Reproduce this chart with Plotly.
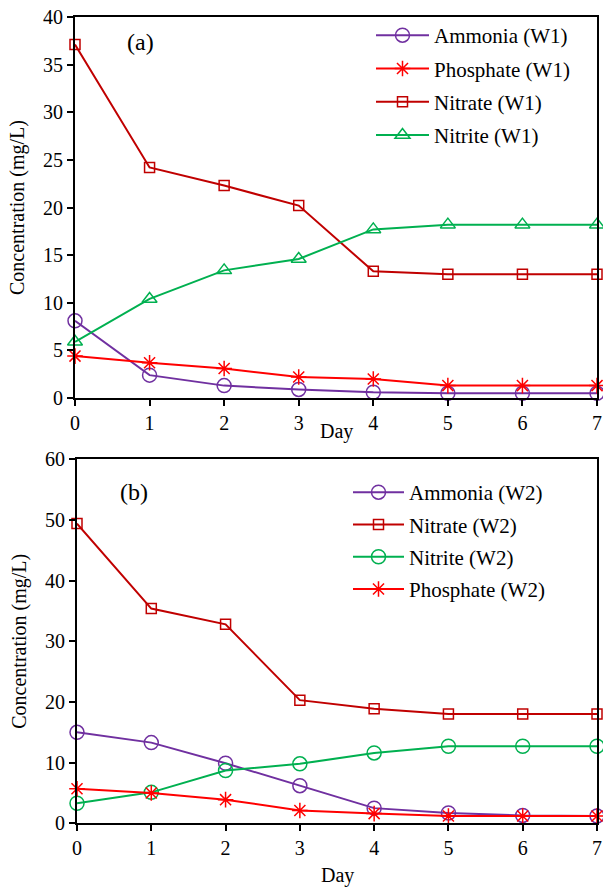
import plotly.graph_objects as go

days = [0, 1, 2, 3, 4, 5, 6, 7]

w1_ammonia = [8.1, 2.4, 1.3, 0.9, 0.6, 0.5, 0.5, 0.5]
w1_phosphate = [4.4, 3.7, 3.1, 2.2, 2.0, 1.3, 1.3, 1.3]
w1_nitrate = [37.1, 24.2, 22.3, 20.2, 13.3, 13.0, 13.0, 13.0]
w1_nitrite = [5.9, 10.4, 13.4, 14.6, 17.7, 18.2, 18.2, 18.2]

w2_ammonia = [15.0, 13.3, 9.9, 6.2, 2.5, 1.7, 1.3, 1.2]
w2_nitrate = [49.4, 35.4, 32.8, 20.3, 18.9, 18.0, 18.0, 18.0]
w2_nitrite = [3.3, 5.1, 8.7, 9.8, 11.6, 12.7, 12.7, 12.7]
w2_phosphate = [5.7, 5.0, 3.9, 2.1, 1.6, 1.2, 1.2, 1.2]

PURPLE = "#7030A0"
RED = "#FF0000"
DARKRED = "#C00000"
GREEN = "#00B050"
FONT = "Liberation Serif"

W, H = 603, 888

fig = go.Figure()

def add(x, y, name, color, symbol, size, xa, ya, legend):
    fig.add_trace(go.Scatter(
        x=x, y=y, name=name, mode="lines+markers",
        line=dict(color=color, width=2),
        marker=dict(symbol=symbol, size=size, color=color,
                    line=dict(color=color, width=1.5)),
        xaxis=xa, yaxis=ya, legend=legend, legendgroup=name,
        cliponaxis=False,
    ))

add(days, w1_ammonia, "Ammonia (W1)", PURPLE, "circle-open", 14, "x", "y", "legend")
add(days, w1_phosphate, "Phosphate (W1)", RED, "asterisk-open", 13, "x", "y", "legend")
add(days, w1_nitrate, "Nitrate (W1)", DARKRED, "square-open", 10, "x", "y", "legend")
add(days, w1_nitrite, "Nitrite (W1)", GREEN, "triangle-up-open", 13, "x", "y", "legend")

add(days, w2_ammonia, "Ammonia (W2)", PURPLE, "circle-open", 14, "x2", "y2", "legend2")
add(days, w2_nitrate, "Nitrate (W2)", DARKRED, "square-open", 10, "x2", "y2", "legend2")
add(days, w2_nitrite, "Nitrite (W2)", GREEN, "circle-open", 14, "x2", "y2", "legend2")
add(days, w2_phosphate, "Phosphate (W2)", RED, "asterisk-open", 13, "x2", "y2", "legend2")

axis_common = dict(
    showgrid=False, zeroline=False, showline=True, linecolor="black",
    linewidth=2, mirror=True, ticks="outside", ticklen=6, tickwidth=1.5,
    tickcolor="black", tickfont=dict(family=FONT, size=20, color="black"),
    automargin=False, ticklabeloverflow="allow",
)

top_x = [75 / W, 597 / W]
bot_x = [77 / W, 597 / W]
top_y = [1 - 398 / H, 1 - 17 / H]
bot_y = [1 - 823.3 / H, 1 - 459.3 / H]

ytitle = dict(text="Concentration (mg/L)", standoff=13,
              font=dict(family=FONT, size=20))

def note(text, px, py, size):
    return dict(text=text, x=px / W, y=1 - py / H, xref="paper", yref="paper",
                xanchor="center", yanchor="middle", showarrow=False,
                font=dict(family=FONT, size=size))

fig.update_layout(
    width=W, height=H,
    margin=dict(l=0, r=0, t=0, b=0),
    paper_bgcolor="white", plot_bgcolor="white",
    font=dict(family=FONT, size=20, color="black"),
    showlegend=True,
    xaxis=dict(axis_common, domain=top_x, range=[0, 7], dtick=1, anchor="y"),
    yaxis=dict(axis_common, domain=top_y, range=[0, 40], dtick=5, anchor="x",
               title=ytitle),
    xaxis2=dict(axis_common, domain=bot_x, range=[0, 7], dtick=1, anchor="y2"),
    yaxis2=dict(axis_common, domain=bot_y, range=[0, 60], dtick=10, anchor="x2",
                title=ytitle),
    legend=dict(x=371 / W, y=1 - 15 / H, xanchor="left", yanchor="top",
                bgcolor="rgba(0,0,0,0)", tracegroupgap=3, itemwidth=53,
                font=dict(family=FONT, size=21)),
    legend2=dict(x=348 / W, y=1 - 472 / H, xanchor="left", yanchor="top",
                 bgcolor="rgba(0,0,0,0)", tracegroupgap=2, itemwidth=51,
                 font=dict(family=FONT, size=21)),
    annotations=[
        note("(a)", 140, 42, 24),
        note("(b)", 134, 492, 24),
        note("Day", 336, 431, 20),
        note("Day", 337, 875, 20),
    ],
)

fig.write_html("out.html", config={"displayModeBar": False},
               post_script="document.body.style.margin='0';")
